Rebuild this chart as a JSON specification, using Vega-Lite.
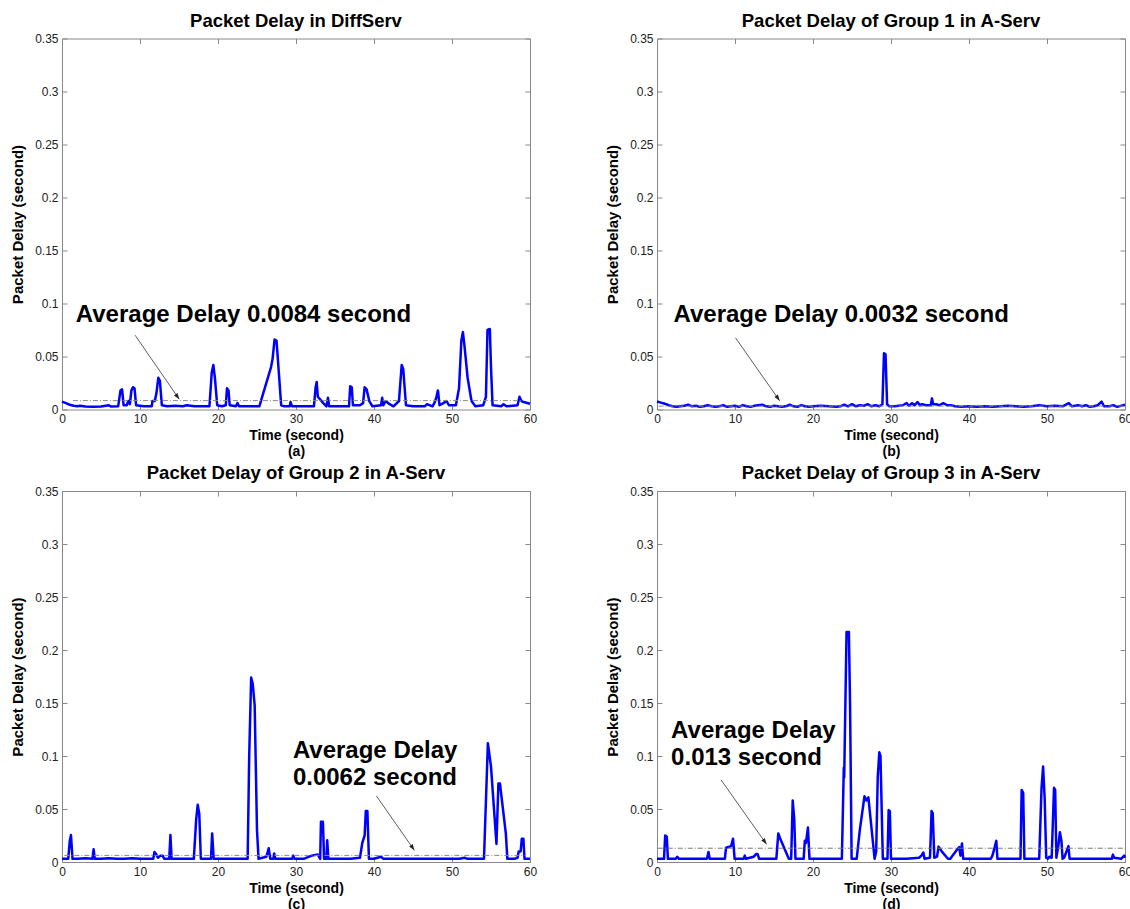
{
  "$schema": "https://vega.github.io/schema/vega-lite/v6.json",
  "background": "white",
  "padding": {"left": 9, "top": 10.5, "right": 0, "bottom": 0},
  "datasets": {
    "a": [
      {"t":0,"d":0.0075},{"t":0.5,"d":0.006},{"t":1,"d":0.0045},{"t":1.5,"d":0.0035},{"t":2,"d":0.003},{"t":2.3,"d":0.0035},{"t":3,"d":0.0028},{"t":4,"d":0.0027},{"t":5,"d":0.0028},{"t":6,"d":0.004},{"t":6.3,"d":0.0028},{"t":7.2,"d":0.003},{"t":7.5,"d":0.018},{"t":7.7,"d":0.019},{"t":7.9,"d":0.004},{"t":8.3,"d":0.004},{"t":8.5,"d":0.008},{"t":8.7,"d":0.005},{"t":8.9,"d":0.018},{"t":9.1,"d":0.021},{"t":9.3,"d":0.02},{"t":9.5,"d":0.004},{"t":10.5,"d":0.003},{"t":11.5,"d":0.003},{"t":11.6,"d":0.008},{"t":11.9,"d":0.008},{"t":12.1,"d":0.015},{"t":12.35,"d":0.03},{"t":12.55,"d":0.027},{"t":12.8,"d":0.004},{"t":13.5,"d":0.003},{"t":14.5,"d":0.0035},{"t":15.5,"d":0.003},{"t":16,"d":0.004},{"t":17,"d":0.003},{"t":18.9,"d":0.003},{"t":19.2,"d":0.035},{"t":19.4,"d":0.042},{"t":19.6,"d":0.03},{"t":19.9,"d":0.004},{"t":20.5,"d":0.003},{"t":21,"d":0.004},{"t":21.15,"d":0.02},{"t":21.35,"d":0.018},{"t":21.5,"d":0.004},{"t":22.3,"d":0.003},{"t":22.5,"d":0.006},{"t":22.7,"d":0.003},{"t":24,"d":0.003},{"t":25.3,"d":0.003},{"t":26.8,"d":0.04},{"t":27,"d":0.048},{"t":27.25,"d":0.066},{"t":27.5,"d":0.065},{"t":27.7,"d":0.045},{"t":28.1,"d":0.004},{"t":28.5,"d":0.003},{"t":29.2,"d":0.003},{"t":29.3,"d":0.007},{"t":29.5,"d":0.003},{"t":31,"d":0.003},{"t":32.3,"d":0.003},{"t":32.5,"d":0.02},{"t":32.65,"d":0.026},{"t":32.8,"d":0.012},{"t":33.5,"d":0.006},{"t":33.9,"d":0.003},{"t":34.1,"d":0.011},{"t":34.25,"d":0.003},{"t":35.5,"d":0.003},{"t":36.8,"d":0.003},{"t":36.95,"d":0.022},{"t":37.15,"d":0.021},{"t":37.3,"d":0.004},{"t":38.2,"d":0.004},{"t":38.6,"d":0.006},{"t":38.8,"d":0.021},{"t":39.05,"d":0.019},{"t":39.4,"d":0.008},{"t":39.8,"d":0.003},{"t":40.9,"d":0.004},{"t":41.05,"d":0.011},{"t":41.2,"d":0.004},{"t":41.5,"d":0.008},{"t":42,"d":0.005},{"t":42.5,"d":0.003},{"t":43.2,"d":0.008},{"t":43.55,"d":0.042},{"t":43.75,"d":0.038},{"t":44.1,"d":0.004},{"t":45,"d":0.003},{"t":46.5,"d":0.003},{"t":46.8,"d":0.005},{"t":47.5,"d":0.003},{"t":47.8,"d":0.007},{"t":48,"d":0.012},{"t":48.2,"d":0.018},{"t":48.4,"d":0.004},{"t":48.9,"d":0.006},{"t":49.3,"d":0.008},{"t":49.6,"d":0.004},{"t":50.5,"d":0.004},{"t":50.9,"d":0.02},{"t":51.2,"d":0.065},{"t":51.4,"d":0.073},{"t":51.6,"d":0.06},{"t":52,"d":0.03},{"t":52.5,"d":0.008},{"t":53,"d":0.003},{"t":54,"d":0.004},{"t":54.35,"d":0.012},{"t":54.55,"d":0.075},{"t":54.85,"d":0.076},{"t":55,"d":0.04},{"t":55.2,"d":0.004},{"t":56.3,"d":0.003},{"t":56.6,"d":0.005},{"t":57,"d":0.003},{"t":58.4,"d":0.004},{"t":58.65,"d":0.012},{"t":58.9,"d":0.008},{"t":59.2,"d":0.007},{"t":60,"d":0.0055}
    ],
    "b": [
      {"t":0,"d":0.0075},{"t":0.5,"d":0.0065},{"t":1,"d":0.0055},{"t":1.5,"d":0.004},{"t":2,"d":0.003},{"t":2.5,"d":0.0025},{"t":3,"d":0.003},{"t":3.5,"d":0.0035},{"t":4,"d":0.0045},{"t":4.5,"d":0.003},{"t":5,"d":0.0035},{"t":5.5,"d":0.0025},{"t":6,"d":0.003},{"t":6.5,"d":0.004},{"t":7,"d":0.003},{"t":7.5,"d":0.0025},{"t":8,"d":0.003},{"t":8.5,"d":0.004},{"t":9,"d":0.0025},{"t":9.5,"d":0.003},{"t":10,"d":0.0035},{"t":10.5,"d":0.0025},{"t":11,"d":0.004},{"t":11.5,"d":0.003},{"t":12,"d":0.0025},{"t":12.5,"d":0.0035},{"t":13,"d":0.004},{"t":13.5,"d":0.0045},{"t":14,"d":0.003},{"t":14.5,"d":0.0025},{"t":15,"d":0.0035},{"t":15.5,"d":0.003},{"t":16,"d":0.0025},{"t":16.5,"d":0.003},{"t":17,"d":0.0045},{"t":17.5,"d":0.003},{"t":18,"d":0.0025},{"t":18.5,"d":0.004},{"t":19,"d":0.003},{"t":19.5,"d":0.0025},{"t":20,"d":0.003},{"t":21,"d":0.0035},{"t":22,"d":0.003},{"t":23,"d":0.0025},{"t":23.5,"d":0.003},{"t":24,"d":0.0045},{"t":24.5,"d":0.003},{"t":25,"d":0.005},{"t":25.5,"d":0.003},{"t":26,"d":0.004},{"t":26.5,"d":0.0035},{"t":27,"d":0.005},{"t":27.5,"d":0.003},{"t":28,"d":0.004},{"t":28.5,"d":0.003},{"t":28.9,"d":0.005},{"t":29.1,"d":0.053},{"t":29.3,"d":0.052},{"t":29.5,"d":0.005},{"t":29.8,"d":0.003},{"t":30.5,"d":0.003},{"t":31,"d":0.0035},{"t":31.5,"d":0.004},{"t":32,"d":0.006},{"t":32.3,"d":0.0035},{"t":32.7,"d":0.006},{"t":33,"d":0.004},{"t":33.4,"d":0.007},{"t":33.7,"d":0.004},{"t":34,"d":0.005},{"t":34.5,"d":0.004},{"t":35.1,"d":0.004},{"t":35.25,"d":0.0105},{"t":35.4,"d":0.005},{"t":35.8,"d":0.005},{"t":36.2,"d":0.004},{"t":36.7,"d":0.006},{"t":37.2,"d":0.004},{"t":37.7,"d":0.004},{"t":38.2,"d":0.003},{"t":39,"d":0.0025},{"t":40,"d":0.003},{"t":41,"d":0.0025},{"t":42,"d":0.003},{"t":43,"d":0.0025},{"t":44,"d":0.003},{"t":45,"d":0.0035},{"t":46,"d":0.003},{"t":47,"d":0.0025},{"t":48,"d":0.003},{"t":49,"d":0.004},{"t":50,"d":0.003},{"t":51,"d":0.0035},{"t":52,"d":0.003},{"t":52.8,"d":0.006},{"t":53.2,"d":0.003},{"t":54,"d":0.004},{"t":54.5,"d":0.003},{"t":55,"d":0.004},{"t":55.5,"d":0.0025},{"t":56,"d":0.003},{"t":56.5,"d":0.004},{"t":57,"d":0.0075},{"t":57.3,"d":0.003},{"t":58,"d":0.003},{"t":58.5,"d":0.004},{"t":59,"d":0.0025},{"t":60,"d":0.0045}
    ],
    "c": [
      {"t":0,"d":0.003},{"t":0.8,"d":0.003},{"t":1,"d":0.02},{"t":1.15,"d":0.0255},{"t":1.35,"d":0.003},{"t":2,"d":0.003},{"t":3,"d":0.0035},{"t":3.9,"d":0.003},{"t":4.05,"d":0.012},{"t":4.2,"d":0.003},{"t":5,"d":0.003},{"t":6,"d":0.0035},{"t":7,"d":0.003},{"t":8,"d":0.003},{"t":9,"d":0.0035},{"t":10,"d":0.003},{"t":11,"d":0.003},{"t":11.7,"d":0.003},{"t":11.85,"d":0.0095},{"t":12.1,"d":0.007},{"t":12.3,"d":0.004},{"t":12.6,"d":0.006},{"t":12.9,"d":0.006},{"t":13.1,"d":0.003},{"t":13.75,"d":0.003},{"t":13.9,"d":0.0255},{"t":14.05,"d":0.003},{"t":15,"d":0.003},{"t":16,"d":0.003},{"t":16.9,"d":0.003},{"t":17.2,"d":0.04},{"t":17.4,"d":0.054},{"t":17.6,"d":0.045},{"t":17.8,"d":0.003},{"t":19.1,"d":0.003},{"t":19.25,"d":0.027},{"t":19.45,"d":0.003},{"t":21,"d":0.003},{"t":22,"d":0.003},{"t":23.8,"d":0.003},{"t":24,"d":0.1},{"t":24.25,"d":0.174},{"t":24.45,"d":0.168},{"t":24.7,"d":0.148},{"t":25,"d":0.03},{"t":25.2,"d":0.003},{"t":26.2,"d":0.005},{"t":26.5,"d":0.013},{"t":26.7,"d":0.003},{"t":27.1,"d":0.003},{"t":27.2,"d":0.008},{"t":27.35,"d":0.003},{"t":28,"d":0.003},{"t":29.5,"d":0.003},{"t":29.65,"d":0.006},{"t":29.8,"d":0.003},{"t":31,"d":0.003},{"t":32,"d":0.006},{"t":32.8,"d":0.007},{"t":33.1,"d":0.003},{"t":33.2,"d":0.038},{"t":33.45,"d":0.038},{"t":33.6,"d":0.003},{"t":33.9,"d":0.003},{"t":34,"d":0.0205},{"t":34.15,"d":0.003},{"t":35,"d":0.003},{"t":36,"d":0.003},{"t":37,"d":0.003},{"t":38.2,"d":0.004},{"t":38.5,"d":0.018},{"t":38.8,"d":0.025},{"t":38.95,"d":0.048},{"t":39.15,"d":0.048},{"t":39.35,"d":0.003},{"t":40,"d":0.003},{"t":40.9,"d":0.005},{"t":41.2,"d":0.003},{"t":43,"d":0.003},{"t":45,"d":0.003},{"t":47,"d":0.003},{"t":49,"d":0.003},{"t":51,"d":0.003},{"t":51.6,"d":0.004},{"t":52,"d":0.003},{"t":53,"d":0.003},{"t":54.1,"d":0.003},{"t":54.6,"d":0.112},{"t":55,"d":0.09},{"t":55.7,"d":0.017},{"t":55.95,"d":0.074},{"t":56.15,"d":0.074},{"t":56.9,"d":0.027},{"t":57.1,"d":0.003},{"t":58,"d":0.003},{"t":58.4,"d":0.004},{"t":58.55,"d":0.01},{"t":58.8,"d":0.01},{"t":58.95,"d":0.022},{"t":59.15,"d":0.022},{"t":59.3,"d":0.003},{"t":60,"d":0.003}
    ],
    "d": [
      {"t":0,"d":0.003},{"t":0.9,"d":0.003},{"t":1.05,"d":0.025},{"t":1.25,"d":0.024},{"t":1.4,"d":0.003},{"t":2.4,"d":0.003},{"t":2.6,"d":0.005},{"t":2.8,"d":0.003},{"t":4,"d":0.003},{"t":5,"d":0.003},{"t":6.4,"d":0.003},{"t":6.6,"d":0.0095},{"t":6.75,"d":0.003},{"t":8.7,"d":0.003},{"t":8.85,"d":0.0135},{"t":9.5,"d":0.015},{"t":9.75,"d":0.022},{"t":9.95,"d":0.003},{"t":11.1,"d":0.003},{"t":11.25,"d":0.006},{"t":11.4,"d":0.003},{"t":12.4,"d":0.005},{"t":12.7,"d":0.0075},{"t":12.9,"d":0.0075},{"t":13.1,"d":0.003},{"t":14,"d":0.003},{"t":15.3,"d":0.003},{"t":15.55,"d":0.027},{"t":15.8,"d":0.022},{"t":16.9,"d":0.003},{"t":17.2,"d":0.003},{"t":17.4,"d":0.058},{"t":17.6,"d":0.04},{"t":17.75,"d":0.003},{"t":18.8,"d":0.003},{"t":18.95,"d":0.02},{"t":19.1,"d":0.018},{"t":19.35,"d":0.0325},{"t":19.55,"d":0.003},{"t":21,"d":0.003},{"t":22,"d":0.003},{"t":23.7,"d":0.003},{"t":23.95,"d":0.089},{"t":24,"d":0.08},{"t":24.3,"d":0.217},{"t":24.6,"d":0.217},{"t":24.75,"d":0.15},{"t":24.95,"d":0.003},{"t":25.6,"d":0.003},{"t":26,"d":0.03},{"t":26.6,"d":0.062},{"t":26.85,"d":0.058},{"t":27.1,"d":0.061},{"t":27.9,"d":0.003},{"t":28.1,"d":0.01},{"t":28.3,"d":0.08},{"t":28.5,"d":0.1035},{"t":28.65,"d":0.1},{"t":28.95,"d":0.003},{"t":29.55,"d":0.003},{"t":29.7,"d":0.049},{"t":29.85,"d":0.048},{"t":30,"d":0.003},{"t":31,"d":0.003},{"t":32,"d":0.003},{"t":33.6,"d":0.004},{"t":33.9,"d":0.006},{"t":34.15,"d":0.009},{"t":34.3,"d":0.003},{"t":35,"d":0.004},{"t":35.2,"d":0.048},{"t":35.35,"d":0.046},{"t":35.55,"d":0.004},{"t":35.9,"d":0.005},{"t":36.1,"d":0.0145},{"t":36.5,"d":0.01},{"t":37.3,"d":0.003},{"t":37.6,"d":0.003},{"t":38.5,"d":0.012},{"t":38.75,"d":0.014},{"t":38.9,"d":0.006},{"t":39.1,"d":0.0175},{"t":39.25,"d":0.003},{"t":40,"d":0.003},{"t":41,"d":0.003},{"t":42.8,"d":0.003},{"t":43,"d":0.006},{"t":43.3,"d":0.014},{"t":43.5,"d":0.02},{"t":43.65,"d":0.003},{"t":44.5,"d":0.003},{"t":46.6,"d":0.003},{"t":46.75,"d":0.068},{"t":46.95,"d":0.065},{"t":47.1,"d":0.003},{"t":48.5,"d":0.003},{"t":49,"d":0.003},{"t":49.3,"d":0.07},{"t":49.5,"d":0.09},{"t":49.7,"d":0.06},{"t":49.9,"d":0.004},{"t":50.1,"d":0.003},{"t":50.3,"d":0.005},{"t":50.6,"d":0.004},{"t":50.9,"d":0.07},{"t":51.05,"d":0.068},{"t":51.2,"d":0.004},{"t":51.45,"d":0.015},{"t":51.65,"d":0.028},{"t":51.85,"d":0.02},{"t":52,"d":0.003},{"t":52.2,"d":0.004},{"t":52.75,"d":0.015},{"t":52.9,"d":0.003},{"t":54,"d":0.003},{"t":56,"d":0.003},{"t":58.3,"d":0.003},{"t":58.45,"d":0.007},{"t":58.6,"d":0.004},{"t":59.5,"d":0.003},{"t":59.9,"d":0.006},{"t":60,"d":0.004}
    ],
    "ann": [
      {"p":"a","label":"Average Delay 0.0084 second","tx":1.77,"ty":0.089,"ax1":9.37,"ay1":0.0701,"ax2":15.03,"ay2":0.0097,"avg":0.0084,"l0":1.4,"l1":58.9},
      {"p":"b","label":"Average Delay 0.0032 second","tx":2.12,"ty":0.089,"ax1":10.07,"ay1":0.0676,"ax2":15.73,"ay2":0.0082,"avg":0.0032,"l0":0.2,"l1":59.8},
      {"p":"c","label":"Average Delay\n0.0062 second","tx":29.6,"ty":0.105,"ax1":40.3,"ay1":0.0624,"ax2":45.18,"ay2":0.011,"avg":0.0062,"l0":0.3,"l1":59.5},
      {"p":"d","label":"Average Delay\n0.013 second","tx":1.81,"ty":0.124,"ax1":8.22,"ay1":0.0774,"ax2":14.05,"ay2":0.0167,"avg":0.013,"l0":0.1,"l1":60}
    ]
  },
  "columns": 2,
  "spacing": {"row": 81.5, "column": 127},
  "bounds": "flush",
  "concat": [
    {
      "title": "Packet Delay in DiffServ",
      "width": 468, "height": 371,
      "layer": [
        {"data": {"name": "a"}, "mark": {"type": "line", "color": "#0000ff", "strokeWidth": 2.5, "strokeJoin": "round"},
         "encoding": {
           "x": {"field": "t", "type": "quantitative", "scale": {"domain": [0, 60], "nice": false}, "axis": {"values": [0,10,20,30,40,50,60], "title": ["Time (second)", "(a)"]}},
           "y": {"field": "d", "type": "quantitative", "scale": {"domain": [0, 0.35], "nice": false}, "axis": {"values": [0,0.05,0.1,0.15,0.2,0.25,0.3,0.35], "format": "~g", "title": "Packet Delay (second)"}}}},
        {"data": {"name": "ann"}, "transform": [{"filter": "datum.p == 'a'"}], "mark": {"type": "rule", "color": "#8a8a8a", "strokeDash": [5, 2, 1, 2], "strokeWidth": 1},
         "encoding": {
           "x": {"field": "l0", "type": "quantitative", "scale": {"domain": [0, 60], "nice": false}, "axis": {"orient": "top", "values": [0,10,20,30,40,50,60], "labels": false, "title": null}},
           "x2": {"field": "l1"},
           "y": {"field": "avg", "type": "quantitative", "scale": {"domain": [0, 0.35], "nice": false}, "axis": {"orient": "right", "values": [0,0.05,0.1,0.15,0.2,0.25,0.3,0.35], "labels": false, "title": null}}}},
        {"data": {"name": "ann"}, "transform": [{"filter": "datum.p == 'a'"}], "mark": {"type": "rule", "color": "#333333", "strokeWidth": 0.8},
         "encoding": {"x": {"field": "ax1", "type": "quantitative", "axis": null}, "y": {"field": "ay1", "type": "quantitative", "axis": null}, "x2": {"field": "ax2"}, "y2": {"field": "ay2"}}},
        {"data": {"name": "ann"}, "transform": [{"filter": "datum.p == 'a'"}], "mark": {"type": "point", "shape": "M0,0L-0.35,-1L0.35,-1Z", "filled": true, "color": "#222222", "opacity": 1, "size": 150, "angle": 325},
         "encoding": {"x": {"field": "ax2", "type": "quantitative", "axis": null}, "y": {"field": "ay2", "type": "quantitative", "axis": null}}},
        {"data": {"name": "ann"}, "transform": [{"filter": "datum.p == 'a'"}], "mark": {"type": "text", "align": "left", "baseline": "middle", "fontSize": 24, "fontWeight": "bold", "color": "#000000", "lineBreak": "\n", "lineHeight": 27},
         "encoding": {"x": {"field": "tx", "type": "quantitative", "axis": null}, "y": {"field": "ty", "type": "quantitative", "axis": null}, "text": {"field": "label"}}}
      ],
      "resolve": {"axis": {"x": "independent", "y": "independent"}}
    },
    {
      "title": "Packet Delay of Group 1 in A-Serv",
      "width": 468, "height": 371,
      "layer": [
        {"data": {"name": "b"}, "mark": {"type": "line", "color": "#0000ff", "strokeWidth": 2.5, "strokeJoin": "round"},
         "encoding": {
           "x": {"field": "t", "type": "quantitative", "scale": {"domain": [0, 60], "nice": false}, "axis": {"values": [0,10,20,30,40,50,60], "title": ["Time (second)", "(b)"]}},
           "y": {"field": "d", "type": "quantitative", "scale": {"domain": [0, 0.35], "nice": false}, "axis": {"values": [0,0.05,0.1,0.15,0.2,0.25,0.3,0.35], "format": "~g", "title": "Packet Delay (second)"}}}},
        {"data": {"name": "ann"}, "transform": [{"filter": "datum.p == 'b'"}], "mark": {"type": "rule", "color": "#8a8a8a", "strokeDash": [5, 2, 1, 2], "strokeWidth": 1},
         "encoding": {
           "x": {"field": "l0", "type": "quantitative", "scale": {"domain": [0, 60], "nice": false}, "axis": {"orient": "top", "values": [0,10,20,30,40,50,60], "labels": false, "title": null}},
           "x2": {"field": "l1"},
           "y": {"field": "avg", "type": "quantitative", "scale": {"domain": [0, 0.35], "nice": false}, "axis": {"orient": "right", "values": [0,0.05,0.1,0.15,0.2,0.25,0.3,0.35], "labels": false, "title": null}}}},
        {"data": {"name": "ann"}, "transform": [{"filter": "datum.p == 'b'"}], "mark": {"type": "rule", "color": "#333333", "strokeWidth": 0.8},
         "encoding": {"x": {"field": "ax1", "type": "quantitative", "axis": null}, "y": {"field": "ay1", "type": "quantitative", "axis": null}, "x2": {"field": "ax2"}, "y2": {"field": "ay2"}}},
        {"data": {"name": "ann"}, "transform": [{"filter": "datum.p == 'b'"}], "mark": {"type": "point", "shape": "M0,0L-0.35,-1L0.35,-1Z", "filled": true, "color": "#222222", "opacity": 1, "size": 150, "angle": 325},
         "encoding": {"x": {"field": "ax2", "type": "quantitative", "axis": null}, "y": {"field": "ay2", "type": "quantitative", "axis": null}}},
        {"data": {"name": "ann"}, "transform": [{"filter": "datum.p == 'b'"}], "mark": {"type": "text", "align": "left", "baseline": "middle", "fontSize": 24, "fontWeight": "bold", "color": "#000000", "lineBreak": "\n", "lineHeight": 27},
         "encoding": {"x": {"field": "tx", "type": "quantitative", "axis": null}, "y": {"field": "ty", "type": "quantitative", "axis": null}, "text": {"field": "label"}}}
      ],
      "resolve": {"axis": {"x": "independent", "y": "independent"}}
    },
    {
      "title": "Packet Delay of Group 2 in A-Serv",
      "width": 468, "height": 371,
      "layer": [
        {"data": {"name": "c"}, "mark": {"type": "line", "color": "#0000ff", "strokeWidth": 2.5, "strokeJoin": "round"},
         "encoding": {
           "x": {"field": "t", "type": "quantitative", "scale": {"domain": [0, 60], "nice": false}, "axis": {"values": [0,10,20,30,40,50,60], "title": ["Time (second)", "(c)"]}},
           "y": {"field": "d", "type": "quantitative", "scale": {"domain": [0, 0.35], "nice": false}, "axis": {"values": [0,0.05,0.1,0.15,0.2,0.25,0.3,0.35], "format": "~g", "title": "Packet Delay (second)"}}}},
        {"data": {"name": "ann"}, "transform": [{"filter": "datum.p == 'c'"}], "mark": {"type": "rule", "color": "#8a8a8a", "strokeDash": [5, 2, 1, 2], "strokeWidth": 1},
         "encoding": {
           "x": {"field": "l0", "type": "quantitative", "scale": {"domain": [0, 60], "nice": false}, "axis": {"orient": "top", "values": [0,10,20,30,40,50,60], "labels": false, "title": null}},
           "x2": {"field": "l1"},
           "y": {"field": "avg", "type": "quantitative", "scale": {"domain": [0, 0.35], "nice": false}, "axis": {"orient": "right", "values": [0,0.05,0.1,0.15,0.2,0.25,0.3,0.35], "labels": false, "title": null}}}},
        {"data": {"name": "ann"}, "transform": [{"filter": "datum.p == 'c'"}], "mark": {"type": "rule", "color": "#333333", "strokeWidth": 0.8},
         "encoding": {"x": {"field": "ax1", "type": "quantitative", "axis": null}, "y": {"field": "ay1", "type": "quantitative", "axis": null}, "x2": {"field": "ax2"}, "y2": {"field": "ay2"}}},
        {"data": {"name": "ann"}, "transform": [{"filter": "datum.p == 'c'"}], "mark": {"type": "point", "shape": "M0,0L-0.35,-1L0.35,-1Z", "filled": true, "color": "#222222", "opacity": 1, "size": 150, "angle": 325},
         "encoding": {"x": {"field": "ax2", "type": "quantitative", "axis": null}, "y": {"field": "ay2", "type": "quantitative", "axis": null}}},
        {"data": {"name": "ann"}, "transform": [{"filter": "datum.p == 'c'"}], "mark": {"type": "text", "align": "left", "baseline": "middle", "fontSize": 24, "fontWeight": "bold", "color": "#000000", "lineBreak": "\n", "lineHeight": 27},
         "encoding": {"x": {"field": "tx", "type": "quantitative", "axis": null}, "y": {"field": "ty", "type": "quantitative", "axis": null}, "text": {"field": "label"}}}
      ],
      "resolve": {"axis": {"x": "independent", "y": "independent"}}
    },
    {
      "title": "Packet Delay of Group 3 in A-Serv",
      "width": 468, "height": 371,
      "layer": [
        {"data": {"name": "d"}, "mark": {"type": "line", "color": "#0000ff", "strokeWidth": 2.5, "strokeJoin": "round"},
         "encoding": {
           "x": {"field": "t", "type": "quantitative", "scale": {"domain": [0, 60], "nice": false}, "axis": {"values": [0,10,20,30,40,50,60], "title": ["Time (second)", "(d)"]}},
           "y": {"field": "d", "type": "quantitative", "scale": {"domain": [0, 0.35], "nice": false}, "axis": {"values": [0,0.05,0.1,0.15,0.2,0.25,0.3,0.35], "format": "~g", "title": "Packet Delay (second)"}}}},
        {"data": {"name": "ann"}, "transform": [{"filter": "datum.p == 'd'"}], "mark": {"type": "rule", "color": "#777777", "strokeDash": [5, 2, 1, 2], "strokeWidth": 1},
         "encoding": {
           "x": {"field": "l0", "type": "quantitative", "scale": {"domain": [0, 60], "nice": false}, "axis": {"orient": "top", "values": [0,10,20,30,40,50,60], "labels": false, "title": null}},
           "x2": {"field": "l1"},
           "y": {"field": "avg", "type": "quantitative", "scale": {"domain": [0, 0.35], "nice": false}, "axis": {"orient": "right", "values": [0,0.05,0.1,0.15,0.2,0.25,0.3,0.35], "labels": false, "title": null}}}},
        {"data": {"name": "ann"}, "transform": [{"filter": "datum.p == 'd'"}], "mark": {"type": "rule", "color": "#333333", "strokeWidth": 0.8},
         "encoding": {"x": {"field": "ax1", "type": "quantitative", "axis": null}, "y": {"field": "ay1", "type": "quantitative", "axis": null}, "x2": {"field": "ax2"}, "y2": {"field": "ay2"}}},
        {"data": {"name": "ann"}, "transform": [{"filter": "datum.p == 'd'"}], "mark": {"type": "point", "shape": "M0,0L-0.35,-1L0.35,-1Z", "filled": true, "color": "#222222", "opacity": 1, "size": 150, "angle": 325},
         "encoding": {"x": {"field": "ax2", "type": "quantitative", "axis": null}, "y": {"field": "ay2", "type": "quantitative", "axis": null}}},
        {"data": {"name": "ann"}, "transform": [{"filter": "datum.p == 'd'"}], "mark": {"type": "text", "align": "left", "baseline": "middle", "fontSize": 24, "fontWeight": "bold", "color": "#000000", "lineBreak": "\n", "lineHeight": 27},
         "encoding": {"x": {"field": "tx", "type": "quantitative", "axis": null}, "y": {"field": "ty", "type": "quantitative", "axis": null}, "text": {"field": "label"}}}
      ],
      "resolve": {"axis": {"x": "independent", "y": "independent"}}
    }
  ],
  "config": {
    "font": "Liberation Sans",
    "view": {"stroke": "#888888", "strokeWidth": 1},
    "axis": {
      "labelFont": "Liberation Sans", "labelFontSize": 12, "labelColor": "#222222", "labelFlush": false,
      "tickColor": "#888888", "tickSize": -5, "labelPadding": 9, "domain": false, "grid": false,
      "titleFont": "Liberation Sans", "titleFontWeight": "bold", "titleColor": "#000000"
    },
    "axisX": {"titlePadding": 4, "titleFontSize": 14},
    "axisY": {"titlePadding": 9.5, "titleFontSize": 15},
    "title": {"fontSize": 18.5, "fontWeight": "bold", "offset": 2.5, "frame": "group", "color": "#000000", "font": "Liberation Sans"}
  }
}
